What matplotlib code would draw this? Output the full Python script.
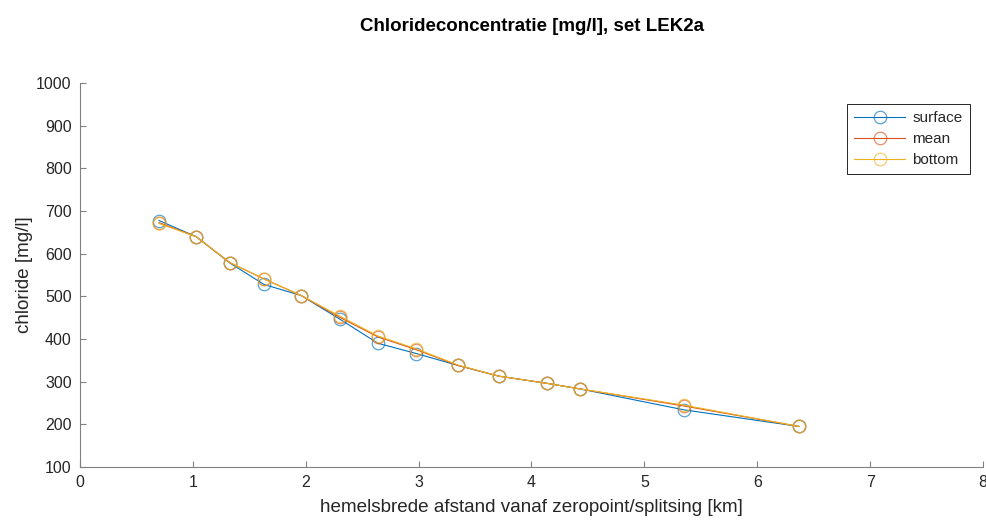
import matplotlib
matplotlib.use("Agg")
import matplotlib.pyplot as plt

plt.rcParams['font.family'] = ['Liberation Sans', 'DejaVu Sans']

# afstand [km] en chloride [mg/l] per meetpunt
afstand = [0.70, 1.03, 1.33, 1.63, 1.96, 2.30, 2.64, 2.98, 3.35, 3.71, 4.14, 4.43, 5.35, 6.37]
surface = [678, 640, 578, 528, 502, 447, 390, 366, 338, 313, 296, 283, 234, 195]
mean = [673, 640, 579, 541, 502, 451, 405, 375, 338, 313, 296, 283, 243, 195]
bottom = [671, 640, 579, 541, 502, 454, 407, 377, 339, 313, 296, 283, 245, 195]

series = [("surface", surface, "#0072BD"),
          ("mean", mean, "#D95319"),
          ("bottom", bottom, "#EDB120")]

fig = plt.figure(figsize=(9.87, 5.2), dpi=100)
ax = fig.add_axes([0.081, 0.102, 0.915, 0.738])

for name, vals, col in series:
    ax.plot(afstand, vals, '-o', color=col, lw=0.8, ms=9, mfc='none',
            mec=matplotlib.colors.to_rgba(col, 0.65), mew=0.9, label=name)

axcol = '#262626'
ax.set_xlim(0, 8)
ax.set_ylim(100, 1000)
ax.set_xticks(range(0, 9))
ax.set_yticks(range(100, 1001, 100))
ax.spines['top'].set_visible(False)
ax.spines['right'].set_visible(False)
for s in ('left', 'bottom'):
    ax.spines[s].set_color('#808080')
    ax.spines[s].set_linewidth(0.8)
ax.tick_params(direction='in', length=4, width=0.8, color='#808080',
               labelsize=11.5, labelcolor=axcol, pad=6)

ax.set_xlabel('hemelsbrede afstand vanaf zeropoint/splitsing [km]', fontsize=13.6,
              color=axcol, labelpad=6)
ax.set_ylabel('chloride [mg/l]', fontsize=13.6, color=axcol, labelpad=2)
fig.suptitle('Chlorideconcentratie [mg/l], set LEK2a', x=0.539, y=0.965,
             fontsize=13.5, fontweight='bold', color='black')

leg = ax.legend(loc='upper right', bbox_to_anchor=(0.985, 0.945), fontsize=11,
                fancybox=False, framealpha=1, edgecolor='#262626',
                handlelength=3.3, borderpad=0.45, labelspacing=0.45,
                handletextpad=0.5, borderaxespad=0)
leg.get_frame().set_linewidth(0.7)
for t in leg.get_texts():
    t.set_color(axcol)

fig.savefig('out.png', dpi=100)
